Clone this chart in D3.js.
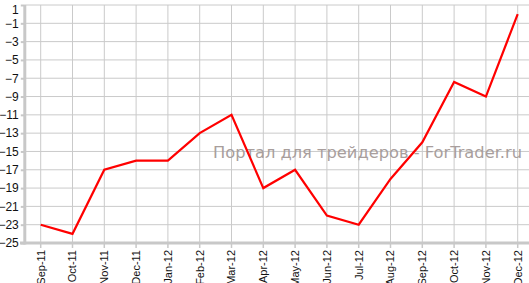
<!DOCTYPE html>
<html><head><meta charset="utf-8">
<script src="https://cdn.jsdelivr.net/npm/d3@7"></script>
<style>html,body{margin:0;padding:0;background:#fff;overflow:hidden}</style>
</head><body>
<svg id="c" width="529" height="283"></svg>
<script>
const categories = ["Sep-11","Oct-11","Nov-11","Dec-11","Jan-12","Feb-12","Mar-12","Apr-12","May-12","Jun-12","Jul-12","Aug-12","Sep-12","Oct-12","Nov-12","Dec-12"];
const values = [-23,-24,-17,-16,-16,-13,-11,-19,-17,-22,-23,-18,-14,-7.4,-9,0];
const yTicks = [1,-1,-3,-5,-7,-9,-11,-13,-15,-17,-19,-21,-23,-25];
const watermark = "Портал для трейдеров - ForTrader.ru";

(function(){
const svg = d3.select("#c");
const pLeft = 24.8, pTop = 5, pBottom = 243, bandW = 31.8;
const x = d3.scaleBand().domain(categories).range([pLeft, pLeft + bandW*categories.length]);
const cx = d => x(d) + x.bandwidth()/2;
const y = d3.scaleLinear().domain([-25, 1]).range([pBottom, pTop]);

// grid
const g = svg.append("g");
g.selectAll("line.h").data(yTicks).join("line")
  .attr("x1", pLeft).attr("x2", 529).attr("y1", d=>y(d)).attr("y2", d=>y(d))
  .attr("stroke", "#cacaca").attr("stroke-width", 1);
g.selectAll("line.v").data(categories).join("line")
  .attr("x1", d=>cx(d)).attr("x2", d=>cx(d)).attr("y1", pTop).attr("y2", pBottom)
  .attr("stroke", "#cacaca").attr("stroke-width", 1);

// watermark
svg.append("text").attr("x", 213).attr("y", 158)
  .attr("font-family", "DejaVu Sans, Verdana, sans-serif").attr("font-size", 16)
  .attr("fill", "#a89e9c").attr("textLength", 309).attr("lengthAdjust", "spacingAndGlyphs")
  .text(watermark);

// axes
const yAxis = d3.axisLeft(y).tickValues(yTicks).tickSize(4).tickPadding(2).tickFormat(d3.format("d"));
const ya = svg.append("g").attr("transform", `translate(${pLeft},0)`).call(yAxis);
ya.select(".domain").remove();
ya.selectAll(".tick line").attr("stroke", "#c8c8c8").attr("stroke-width", 2);
ya.selectAll(".tick text").attr("font-family", "Liberation Sans, Arial, sans-serif").attr("font-size", 12).attr("fill", "#111")
  .attr("y", d => Math.max(0, 10 - y(d)));

const xAxis = d3.axisBottom(x).tickSize(5).tickSizeOuter(0);
const xa = svg.append("g").attr("transform", `translate(0,${pBottom})`).call(xAxis);
xa.select(".domain").remove();
xa.selectAll(".tick line").attr("stroke", "#c8c8c8").attr("stroke-width", 1.5);
xa.selectAll(".tick text").attr("font-family", "Liberation Sans, Arial, sans-serif").attr("font-size", 11).attr("fill", "#111")
  .attr("transform", "rotate(-90)").attr("text-anchor", "end").attr("dy", "0.35em").attr("x", -7).attr("y", 0);

svg.append("line").attr("x1", pLeft).attr("x2", pLeft).attr("y1", pTop).attr("y2", pBottom+1.5)
  .attr("stroke", "#c8c8c8").attr("stroke-width", 3);
svg.append("line").attr("x1", 20).attr("x2", 529).attr("y1", pBottom).attr("y2", pBottom)
  .attr("stroke", "#c8c8c8").attr("stroke-width", 3);

// line
const line = d3.line().x((d,i)=>cx(categories[i])).y(d=>y(d));
svg.append("path").datum(values).attr("d", line).attr("fill", "none")
  .attr("stroke", "#ff0000").attr("stroke-width", 2.2).attr("stroke-linejoin", "miter");
})();
</script>
</body></html>
